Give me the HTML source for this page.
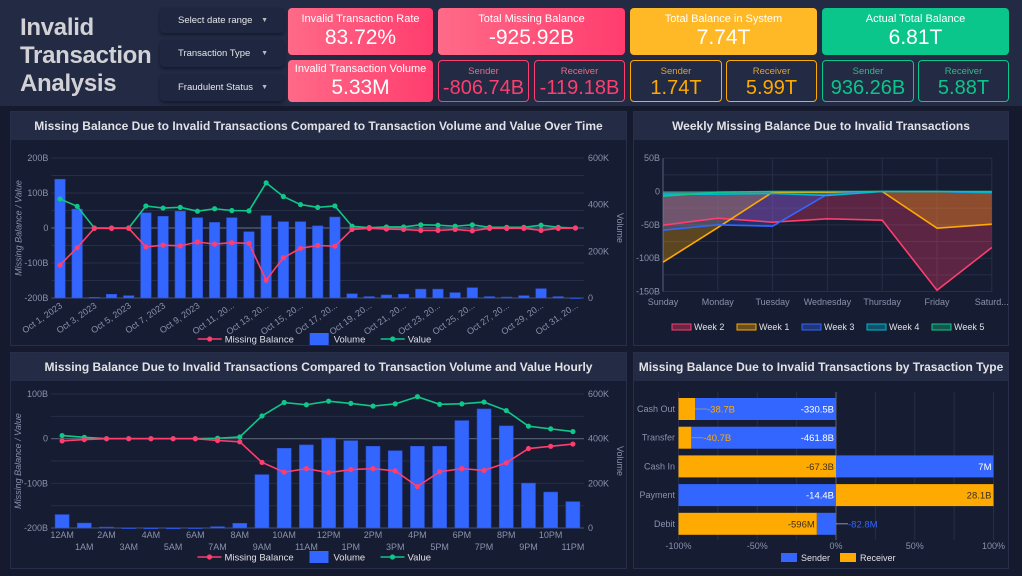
<!DOCTYPE html>
<html><head><meta charset="utf-8">
<style>
*{margin:0;padding:0;box-sizing:border-box}
body{width:1022px;height:576px;background:#151a2e;font-family:"Liberation Sans",sans-serif;position:relative;overflow:hidden;color:#fff}
.hdr{position:absolute;left:0;top:0;width:1022px;height:106px;background:#222a44}
.title{position:absolute;left:20px;top:14px;font-size:24px;line-height:28px;font-weight:bold;color:#d2d2d6;letter-spacing:-0.3px}
.dd{position:absolute;left:160px;width:124px;background:#1f2640;border-radius:4px;box-shadow:0 2px 3px rgba(0,0,0,.4);font-size:9.5px;color:#e6e6ea;padding-left:18px;display:flex;align-items:center}
.dd span{position:absolute;right:16px;font-size:7px;color:#bbb}
.card{position:absolute;border-radius:4px;text-align:center}
.card .l{font-size:11px;color:#fff;margin-top:5px}
.card .v{font-size:21px;color:#fff;line-height:25px}
.sub{position:absolute;border-radius:4px;border:1px solid;text-align:center;top:60px;height:42px}
.sub .l{font-size:9.5px;margin-top:5px}
.sub .v{font-size:20px;line-height:23px}
.panel{position:absolute;background:#161c31;border:1px solid #262e49}
.ptitle{height:28px;background:#232b45;color:#e2e2e6;font-weight:bold;font-size:12px;text-align:center;line-height:28px}
svg#ov{position:absolute;left:0;top:0}
</style></head><body>
<div class="hdr"></div>
<div class="title">Invalid<br>Transaction<br>Analysis</div>
<div class="dd" style="top:8px;height:25px">Select date range<span>▼</span></div>
<div class="dd" style="top:40px;height:27px">Transaction Type<span>▼</span></div>
<div class="dd" style="top:74px;height:27px">Fraudulent Status<span>▼</span></div>

<div class="card" style="left:288px;top:8px;width:145px;height:47px;background:linear-gradient(90deg,#ff6a88,#ff3d6e)"><div class="l">Invalid Transaction Rate</div><div class="v">83.72%</div></div>
<div class="card" style="left:288px;top:60px;width:145px;height:42px;background:linear-gradient(90deg,#ff6a88,#ff3d6e)"><div class="l" style="margin-top:3px">Invalid Transaction Volume</div><div class="v">5.33M</div></div>
<div class="card" style="left:438px;top:8px;width:187px;height:47px;background:linear-gradient(90deg,#ff6a88,#ff3d6e)"><div class="l">Total Missing Balance</div><div class="v">-925.92B</div></div>
<div class="sub" style="left:438px;width:91px;border-color:#ff3d6e"><div class="l" style="color:#e2708c">Sender</div><div class="v" style="color:#ff3d6e">-806.74B</div></div>
<div class="sub" style="left:534px;width:91px;border-color:#ff3d6e"><div class="l" style="color:#e2708c">Receiver</div><div class="v" style="color:#ff3d6e">-119.18B</div></div>
<div class="card" style="left:630px;top:8px;width:187px;height:47px;background:#ffb826"><div class="l">Total Balance in System</div><div class="v">7.74T</div></div>
<div class="sub" style="left:630px;width:92px;border-color:#ffaa00"><div class="l" style="color:#d9a440">Sender</div><div class="v" style="color:#ffaa00">1.74T</div></div>
<div class="sub" style="left:726px;width:91px;border-color:#ffaa00"><div class="l" style="color:#d9a440">Receiver</div><div class="v" style="color:#ffaa00">5.99T</div></div>
<div class="card" style="left:822px;top:8px;width:187px;height:47px;background:#0bc68a"><div class="l">Actual Total Balance</div><div class="v">6.81T</div></div>
<div class="sub" style="left:822px;width:92px;border-color:#0bc68a"><div class="l" style="color:#3fb48c">Sender</div><div class="v" style="color:#0bc68a">936.26B</div></div>
<div class="sub" style="left:918px;width:91px;border-color:#0bc68a"><div class="l" style="color:#3fb48c">Receiver</div><div class="v" style="color:#0bc68a">5.88T</div></div>

<div class="panel" style="left:10px;top:111px;width:617px;height:235px"><div class="ptitle">Missing Balance Due to Invalid Transactions Compared to Transaction Volume and Value Over Time</div></div>
<div class="panel" style="left:633px;top:111px;width:376px;height:235px"><div class="ptitle">Weekly Missing Balance Due to Invalid Transactions</div></div>
<div class="panel" style="left:10px;top:352px;width:617px;height:217px"><div class="ptitle">Missing Balance Due to Invalid Transactions Compared to Transaction Volume and Value Hourly</div></div>
<div class="panel" style="left:633px;top:352px;width:376px;height:217px"><div class="ptitle">Missing Balance Due to Invalid Transactions by Trasaction Type</div></div>

<svg id="ov" width="1022" height="576" font-family="Liberation Sans, sans-serif"></svg>
<script>
// ---------- data ----------
const dayLabels=["Oct 1, 2023","Oct 2, 2023","Oct 3, 2023","Oct 4, 2023","Oct 5, 2023","Oct 6, 2023","Oct 7, 2023","Oct 8, 2023","Oct 9, 2023","Oct 10, 20...","Oct 11, 20...","Oct 12, 20...","Oct 13, 20...","Oct 14, 20...","Oct 15, 20...","Oct 16, 20...","Oct 17, 20...","Oct 18, 20...","Oct 19, 20...","Oct 20, 20...","Oct 21, 20...","Oct 22, 20...","Oct 23, 20...","Oct 24, 20...","Oct 25, 20...","Oct 26, 20...","Oct 27, 20...","Oct 28, 20...","Oct 29, 20...","Oct 30, 20...","Oct 31, 20..."];
const dayVolume=[509,381,3,16,10,365,350,372,344,324,344,284,353,327,327,309,347,18,6,13,16,38,38,23,44,6,4,10,40,6,1];
const dayValue=[83,62,0,0,0,63,57,59,48,55,50,49,129,90,67,59,63,5,1,3,3,9,8,5,9,2,2,2,8,2,0];
const dayMissing=[-106,-56,-1,-1,-1,-54,-49,-51,-40,-46,-42,-44,-149,-85,-58,-50,-52,-4,-1,-3,-4,-7,-7,-4,-8,-1,-1,-1,-7,-1,0];
const leftTicks1=[200,100,0,-100,-200];
const rightTicks1=[600,400,200,0];

const hourLabels=["12AM","1AM","2AM","3AM","4AM","5AM","6AM","7AM","8AM","9AM","10AM","11AM","12PM","1PM","2PM","3PM","4PM","5PM","6PM","7PM","8PM","9PM","10PM","11PM"];
const hourVolume=[60,22,4,1,0,0,1,6,21,239,357,372,403,391,366,346,366,366,481,533,457,201,161,118];
const hourValue=[7,3,0,0,0,0,0,1,4,51,81,76,84,79,73,78,94,77,78,82,63,28,22,16];
const hourMissing=[-5,-2,0,0,0,0,0,-4,-7,-53,-75,-67,-76,-69,-67,-72,-107,-74,-67,-71,-54,-22,-17,-12];
const leftTicks2=[100,0,-100,-200];
const rightTicks2=[600,400,200,0];

const weekDays=["Sunday","Monday","Tuesday","Wednesday","Thursday","Friday","Saturd..."];
const weekNames=["Week 2","Week 1","Week 3","Week 4","Week 5"];
const week2=[-50.5,-40,-46,-41,-43,-148,-84];
const week1=[-106,-54,-1,-1,0,-55,-49];
const week3=[-58,-50,-52,-4,0,0,-3];
const week4=[-4,-4,-3,-6,0,0,-1];
const week5=[-7,-1,0,0,0,0,0];
const weekTicks=[50,0,-50,-100,-150];

const typeCats=["Cash Out","Transfer","Cash In","Payment","Debit"];
const senderVals=[-330.5e9,-461.8e9,7e6,-14.4e9,-82.8e6];
const receiverVals=[-38.7e9,-40.7e9,-67.3e9,28.1e9,-596e6];
const senderLabels=["-330.5B","-461.8B","7M","-14.4B","-82.8M"];
const receiverLabels=["-38.7B","-40.7B","-67.3B","28.1B","-596M"];
const pctTicks=[-100,-50,0,50,100];

// ---------- helpers ----------
const NS='http://www.w3.org/2000/svg';
const svg=document.getElementById('ov');
function mk(tag,attrs,parent){const e=document.createElementNS(NS,tag);for(const k in attrs)e.setAttribute(k,attrs[k]);(parent||svg).appendChild(e);return e;}
const AX='#8a92ad',GRID='#262e48',RED='#ff3d6e',GRN='#10c78a',BLU='#3366ff',ORG='#ffaa00';

// ---------- combo chart builder ----------
function combo(o){
  const n=o.labels.length, bw=(o.x1-o.x0)/n;
  const yL=v=>o.zeroL-v*o.pxPerB;
  const yR=v=>o.yb-v/600*(o.yb-o.yt);
  const xc=i=>o.x0+bw*(i+0.5);
  for(let v=o.lmin;v<=o.lmax;v+=50){const g=mk('line',{x1:o.x0,x2:o.x1,y1:yL(v),y2:yL(v),stroke:v===0?'#59607a':GRID,'stroke-width':v===0?1.2:1});
    
    }
  o.lt.forEach(v=>{const t=mk('text',{x:o.x0-3,y:yL(v)+3,'text-anchor':'end','font-size':9,fill:AX});t.textContent=(v===0?'0':v+'B');
    
    });
  o.rt.forEach(v=>{const t=mk('text',{x:o.x1+4,y:yR(v)+3,'font-size':9,fill:AX});t.textContent=(v===0?'0':v+'K');
    
    });
  let t=mk('text',{transform:`translate(${o.x0-30},${(o.yt+o.yb)/2}) rotate(-90)`,'text-anchor':'middle','font-size':9,'font-style':'italic',fill:AX});t.textContent='Missing Balance / Value';
  
  
  t=mk('text',{transform:`translate(${o.x1+33},${(o.yt+o.yb)/2}) rotate(90)`,'text-anchor':'middle','font-size':9,fill:AX});t.textContent='Volume';
  
  
  const ax=mk('line',{x1:o.x0,x2:o.x1,y1:o.yb,y2:o.yb,stroke:'#4a5270'});
  
  
  o.vol.forEach((v,i)=>{const h=o.yb-yR(v);const r=mk('rect',{x:xc(i)-o.barW/2,y:yR(v),width:o.barW,height:Math.max(h,0.8),fill:BLU,stroke:'#2a4fd0','stroke-width':0.6});
    
    });
  [[o.val,GRN,'value'],[o.miss,RED,'missing-balance']].forEach(([arr,c,nm])=>{
    const p=mk('polyline',{points:arr.map((v,i)=>xc(i)+','+yL(v)).join(' '),fill:'none',stroke:c,'stroke-width':1.6});
    
    
    arr.forEach((v,i)=>{const d=mk('circle',{cx:xc(i),cy:yL(v),r:2.6,fill:c});
      
      });
  });
  o.labels.forEach((l,i)=>{
    if(o.rotate){ if(i%2)return;
      const t=mk('text',{transform:`translate(${xc(i)+3},${o.yb+9}) rotate(-35)`,'text-anchor':'end','font-size':9,fill:AX});t.textContent=l;
      
      
    } else {
      const t=mk('text',{x:xc(i),y:o.yb+10+(i%2?12:0),'text-anchor':'middle','font-size':9,fill:AX});t.textContent=l;
      
      
    }
  });
  const ly=o.legY, cx=(o.x0+o.x1)/2-60;
  let e=mk('line',{x1:cx-60,x2:cx-36,y1:ly,y2:ly,stroke:RED,'stroke-width':1.6});
  e=mk('circle',{cx:cx-48,cy:ly,r:2.6,fill:RED});
  e=mk('text',{x:cx-33,y:ly+3.5,'font-size':9.5,fill:'#e0e0e6'});e.textContent='Missing Balance';
  e=mk('rect',{x:cx+52,y:ly-6,width:19,height:12,fill:BLU});
  e=mk('text',{x:cx+76,y:ly+3.5,'font-size':9.5,fill:'#e0e0e6'});e.textContent='Volume';
  e=mk('line',{x1:cx+123,x2:cx+147,y1:ly,y2:ly,stroke:GRN,'stroke-width':1.6});
  e=mk('circle',{cx:cx+135,cy:ly,r:2.6,fill:GRN});
  e=mk('text',{x:cx+150,y:ly+3.5,'font-size':9.5,fill:'#e0e0e6'});e.textContent='Value';
}
combo({labels:dayLabels,vol:dayVolume,val:dayValue,miss:dayMissing,lt:leftTicks1,rt:rightTicks1,x0:51.4,x1:584,yt:158,yb:298,zeroL:228,pxPerB:0.35,lmin:-200,lmax:200,barW:10.5,rotate:true,legY:339});
combo({labels:hourLabels,vol:hourVolume,val:hourValue,miss:hourMissing,lt:leftTicks2,rt:rightTicks2,x0:51,x1:584,yt:394,yb:528,zeroL:438.7,pxPerB:0.4467,lmin:-200,lmax:100,barW:14,rotate:false,legY:557});

// ---------- weekly area chart ----------
(function(){
  const x=i=>663+54.8*i, y=v=>191.5-v*0.667;
  for(let v=-150;v<=50;v+=25){const g=mk('line',{x1:663,x2:992,y1:y(v),y2:y(v),stroke:GRID});}
  weekDays.forEach((d,i)=>{const g=mk('line',{x1:x(i),x2:x(i),y1:y(50),y2:y(-150),stroke:i===0?'#59607a':GRID});
    const t=mk('text',{x:x(i),y:305,'text-anchor':'middle','font-size':9,fill:AX});t.textContent=d;});
  weekTicks.forEach(v=>{const t=mk('text',{x:660,y:y(v)+3,'text-anchor':'end','font-size':9,fill:AX});t.textContent=v===0?'0':v+'B';});
  const series=[week2,week1,week3,week4,week5], cols=[RED,ORG,BLU,'#00b8d4',GRN];
  series.forEach((s,k)=>{const pts=s.map((v,i)=>x(i)+','+y(v)).join(' ');
    const a=mk('polygon',{points:x(0)+','+y(0)+' '+pts+' '+x(6)+','+y(0),fill:cols[k],'fill-opacity':0.3});
    
    });
  series.forEach((s,k)=>{const l=mk('polyline',{points:s.map((v,i)=>x(i)+','+y(v)).join(' '),fill:'none',stroke:cols[k],'stroke-width':1.6});
    
    });
  const lx=[672,737,802,867,932];
  weekNames.forEach((n,k)=>{const r=mk('rect',{x:lx[k],y:324,width:19,height:6,fill:cols[k],'fill-opacity':0.35,stroke:cols[k],'stroke-width':1});
    
    const t=mk('text',{x:lx[k]+22,y:330,'font-size':9,fill:'#e0e0e6'});t.textContent=n;});
})();

// ---------- transaction type bars ----------
(function(){
  const x=p=>836+p*1.575, rowY=i=>398+28.7*i, bh=22;
  for(let p=-100;p<=100;p+=25){const g=mk('line',{x1:x(p),x2:x(p),y1:392,y2:540,stroke:p===0?'#59607a':GRID});}
  pctTicks.forEach(p=>{const t=mk('text',{x:x(p),y:549,'text-anchor':'middle','font-size':9,fill:AX});t.textContent=p+'%';});
  typeCats.forEach((c,i)=>{
    const t=mk('text',{x:675,y:rowY(i)+bh/2+3,'text-anchor':'end','font-size':9,fill:AX});t.textContent=c;
    const s=senderVals[i], r=receiverVals[i];
    const neg=Math.abs(Math.min(s,0))+Math.abs(Math.min(r,0)), pos=Math.max(s,0)+Math.max(r,0);
    let accN=0, accP=0;
    [[s,BLU,senderLabels[i],'sender'],[r,ORG,receiverLabels[i],'receiver']].forEach(([v,col,lab,nm])=>{
      let p0,p1;
      if(v<0){p0=-accN;accN+=Math.abs(v)/neg*100;p1=-accN;} else {p0=accP;accP+=v/pos*100;p1=accP;}
      const xa=Math.min(x(p0),x(p1)), w=Math.abs(x(p1)-x(p0));
      const b=mk('rect',{x:xa,y:rowY(i),width:w,height:bh,fill:col});
      
      
      const outer=Math.max(x(p0),x(p1));
      let lt;
      if(w>40){lt=mk('text',{x:outer-2,y:rowY(i)+bh/2+3.5,'text-anchor':'end','font-size':9.5,fill:col===BLU?'#fff':'#3a3020'});}
      else {
        const lx0=xa+w;
        const ll=mk('line',{x1:lx0,x2:lx0+12,y1:rowY(i)+bh/2,y2:rowY(i)+bh/2,stroke:'#8a92ad'});
        
        lt=mk('text',{x:lx0+12,y:rowY(i)+bh/2+3.5,'font-size':9.5,fill:col});}
      lt.textContent=lab;
      
      
    });
  });
  let e=mk('rect',{x:781,y:553,width:16,height:9,fill:BLU});
  e=mk('text',{x:801,y:561,'font-size':9,fill:'#e0e0e6'});e.textContent='Sender';
  e=mk('rect',{x:840,y:553,width:16,height:9,fill:ORG});
  e=mk('text',{x:860,y:561,'font-size':9,fill:'#e0e0e6'});e.textContent='Receiver';
})();
</script>
</body></html>
